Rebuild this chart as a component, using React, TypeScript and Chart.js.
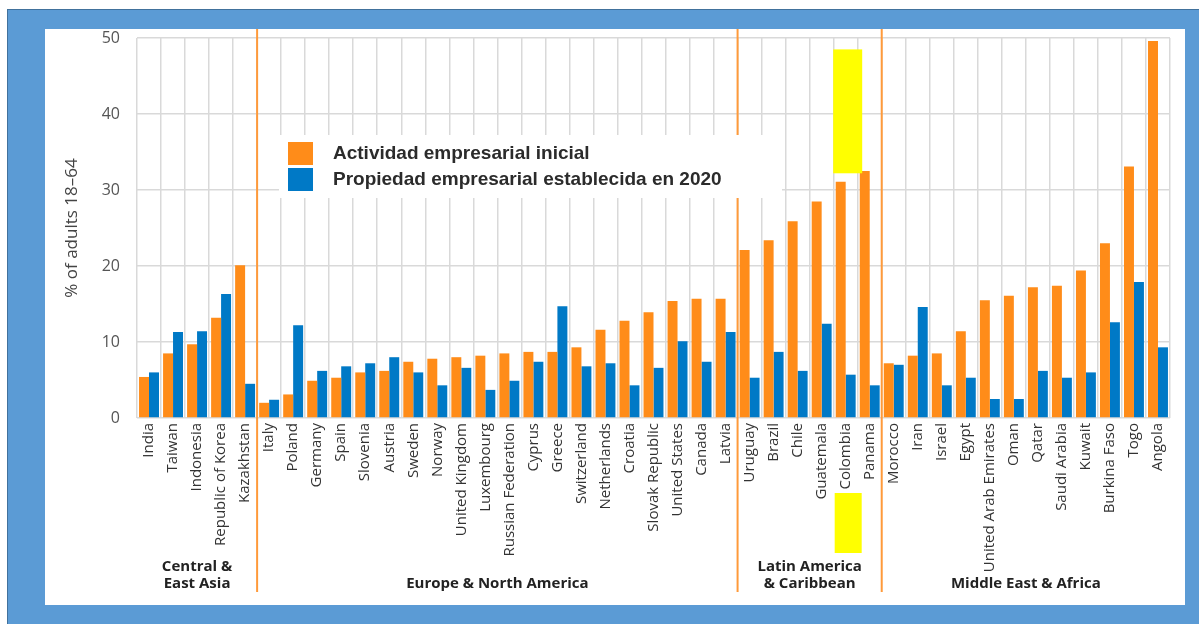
import React, { useEffect, useRef } from "react";
import { Chart, registerables } from "chart.js";

Chart.register(...registerables);

const categories = [
  "India", "Taiwan", "Indonesia", "Republic of Korea", "Kazakhstan",
  "Italy", "Poland", "Germany", "Spain", "Slovenia", "Austria", "Sweden", "Norway",
  "United Kingdom", "Luxembourg", "Russian Federation", "Cyprus", "Greece", "Switzerland",
  "Netherlands", "Croatia", "Slovak Republic", "United States", "Canada", "Latvia",
  "Uruguay", "Brazil", "Chile", "Guatemala", "Colombia", "Panama",
  "Morocco", "Iran", "Israel", "Egypt", "United Arab Emirates", "Oman", "Qatar",
  "Saudi Arabia", "Kuwait", "Burkina Faso", "Togo", "Angola",
];

const groupNames = [
  ["Central &", "East Asia"],
  ["Europe & North America"],
  ["Latin America", "& Caribbean"],
  ["Middle East & Africa"],
];
const groupSizes = [5, 20, 6, 12];

const initialActivity = [
  5.4, 8.5, 9.7, 13.2, 20.1,
  2.0, 3.1, 4.9, 5.3, 6.0, 6.2, 7.4, 7.8, 8.0, 8.2, 8.5, 8.7, 8.7, 9.3, 11.6, 12.8, 13.9, 15.4, 15.7, 15.7,
  22.1, 23.4, 25.9, 28.5, 31.1, 32.5,
  7.2, 8.2, 8.5, 11.4, 15.5, 16.1, 17.2, 17.4, 19.4, 23.0, 33.1, 49.6,
];

const establishedOwnership = [
  6.0, 11.3, 11.4, 16.3, 4.5,
  2.4, 12.2, 6.2, 6.8, 7.2, 8.0, 6.0, 4.3, 6.6, 3.7, 4.9, 7.4, 14.7, 6.8, 7.2, 4.3, 6.6, 10.1, 7.4, 11.3,
  5.3, 8.7, 6.2, 12.4, 5.7, 4.3,
  7.0, 14.6, 4.3, 5.3, 2.5, 2.5, 6.2, 5.3, 6.0, 12.6, 17.9, 9.3,
];

const seriesLabels = ["Actividad empresarial inicial", "Propiedad empresarial establecida en 2020"];
const yAxisTitle = "% of adults 18–64";
const yMin = 0;
const yMax = 50;
const yStep = 10;
const highlightCategory = "Colombia";
const highlightRange = [32.2, 48.5];

const ORANGE = "#FF8C19";
const BLUE = "#0079C6";
const SEP = "#FF9A3A";

const overlayPlugin = {
  id: "overlay",
  beforeDatasetsDraw(chart: any) {
    const { ctx, chartArea } = chart;
    const x = chart.scales.x;
    ctx.save();
    ctx.strokeStyle = SEP;
    ctx.lineWidth = 2;
    let idx = 0;
    for (let g = 0; g < groupSizes.length - 1; g++) {
      idx += groupSizes[g];
      const px = (x.getPixelForValue(idx - 1) + x.getPixelForValue(idx)) / 2;
      ctx.beginPath();
      ctx.moveTo(px, 0);
      ctx.lineTo(px, chartArea.bottom + 174);
      ctx.stroke();
    }
    ctx.restore();
  },
  afterDatasetsDraw(chart: any) {
    const { ctx, chartArea } = chart;
    const x = chart.scales.x;
    const y = chart.scales.y;
    ctx.save();
    const hi = categories.indexOf(highlightCategory);
    const cx = x.getPixelForValue(hi) + 2;
    ctx.fillStyle = "#FFFF00";
    const yTop = y.getPixelForValue(highlightRange[1]);
    const yBot = y.getPixelForValue(highlightRange[0]);
    ctx.fillRect(cx - 14.5, yTop, 29, yBot - yTop);
    ctx.fillRect(cx - 13, chartArea.bottom + 75, 27, 60);

    const lx = chartArea.left + 142;
    const ly = chartArea.top + 97;
    ctx.fillStyle = "#ffffff";
    ctx.fillRect(lx, ly, 503, 63);
    const colors = [ORANGE, BLUE];
    ctx.font = "bold 19px 'Liberation Sans', Arial, sans-serif";
    ctx.textBaseline = "middle";
    ctx.textAlign = "left";
    chart.data.datasets.forEach((ds: any, i: number) => {
      const ry = ly + 7 + i * 26;
      ctx.fillStyle = colors[i];
      ctx.fillRect(lx + 9, ry, 25, 23);
      ctx.fillStyle = "#2b2b2b";
      ctx.fillText(ds.label, lx + 54, ry + 12);
    });
    ctx.restore();
  },
  afterDraw(chart: any) {
    const { ctx, chartArea } = chart;
    const x = chart.scales.x;
    ctx.save();
    ctx.font = "bold 15px 'Open Sans', sans-serif";
    ctx.fillStyle = "#222";
    ctx.textAlign = "center";
    ctx.textBaseline = "middle";
    let start = 0;
    const half = x.width / categories.length / 2;
    groupSizes.forEach((n, g) => {
      const left = x.getPixelForValue(start) - half;
      const right = x.getPixelForValue(start + n - 1) + half;
      const cx = (left + right) / 2;
      const lines = groupNames[g];
      const base = chartArea.bottom + 166;
      lines.forEach((ln, k) => {
        ctx.fillText(ln, cx, base - (lines.length - 1 - k) * 17);
      });
      start += n;
    });
    ctx.restore();
  },
};

export default function App() {
  const ref = useRef<HTMLCanvasElement | null>(null);
  useEffect(() => {
    if (!ref.current) return;
    const chart = new Chart(ref.current, {
      type: "bar",
      data: {
        labels: categories,
        datasets: [
          { label: seriesLabels[0], data: initialActivity, backgroundColor: ORANGE, barPercentage: 1, categoryPercentage: 0.83 },
          { label: seriesLabels[1], data: establishedOwnership, backgroundColor: BLUE, barPercentage: 1, categoryPercentage: 0.83 },
        ],
      },
      options: {
        animation: false,
        responsive: true,
        maintainAspectRatio: false,
        layout: { padding: { top: 9, right: 15, left: 0, bottom: 0 } },
        plugins: { legend: { display: false }, tooltip: { enabled: false } },
        scales: {
          x: {
            grid: { offset: true, color: "#d9d9d9", lineWidth: 1.5, drawTicks: false },
            border: { display: false },
            ticks: {
              autoSkip: false,
              maxRotation: 90,
              minRotation: 90,
              padding: 5,
              color: "#333",
              font: { family: "'Open Sans', sans-serif", size: 15, weight: 500 },
            },
            afterFit(scale: any) {
              scale.height = 187;
              scale.paddingLeft = 0;
              scale.paddingRight = 0;
            },
          },
          y: {
            min: yMin,
            max: yMax,
            ticks: {
              stepSize: yStep,
              padding: 17,
              color: "#555",
              font: { family: "'Open Sans', sans-serif", size: 16, weight: 500 },
            },
            grid: { color: "#d9d9d9", lineWidth: 1.5, drawTicks: false },
            border: { display: false },
            title: {
              display: true,
              text: yAxisTitle,
              color: "#444",
              font: { family: "'Open Sans', sans-serif", size: 17, weight: 500 },
              padding: { top: 17, bottom: 0 },
            },
            afterFit(scale: any) {
              scale.width = 92;
              scale.paddingTop = 0;
              scale.paddingBottom = 0;
            },
          },
        },
      },
      plugins: [overlayPlugin],
    });
    return () => chart.destroy();
  }, []);

  return (
    <div style={{ position: "fixed", left: 0, top: 0, width: 1199, height: 624, background: "#fff", overflow: "hidden" }}>
      <div style={{ position: "absolute", left: 7, top: 9, right: 0, bottom: 0, background: "#5B9BD5", borderTop: "1px solid #41719C", borderLeft: "1px solid #41719C" }} />
      <div style={{ position: "absolute", left: 45, top: 29, width: 1140, height: 576, background: "#fff" }}>
        <canvas ref={ref} />
      </div>
    </div>
  );
}
